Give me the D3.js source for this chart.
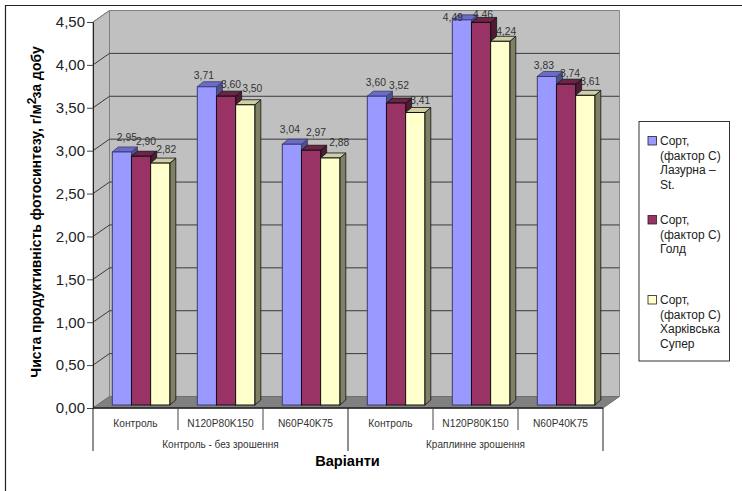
<!DOCTYPE html>
<html>
<head>
<meta charset="utf-8">
<script src="https://cdnjs.cloudflare.com/ajax/libs/d3/7.8.5/d3.min.js"></script>
<style>
html,body{margin:0;padding:0;background:#fff}
svg{display:block}
text{font-family:"Liberation Sans",Arial,sans-serif;fill:#1a1a1a}
</style>
</head>
<body>
<svg id="chart" width="742" height="491"></svg>
<script>
// Chart data
const categories = ["Контроль","N120P80K150","N60P40K75","Контроль","N120P80K150","N60P40K75"];
const groups = ["Контроль - без зрошення","Краплинне зрошення"];
const seriesNames = [
  ["Сорт,","(фактор С)","Лазурна –","St."],
  ["Сорт,","(фактор С)","Голд"],
  ["Сорт,","(фактор С)","Харківська","Супер"]
];
const lazurna = [2.95,3.71,3.04,3.60,4.49,3.83];
const gold = [2.90,3.60,2.97,3.52,4.46,3.74];
const kharkivska = [2.82,3.50,2.88,3.41,4.24,3.61];
const yTicks = [0,0.5,1,1.5,2,2.5,3,3.5,4,4.5];

// Face colours per series: front, top, side, outline
const faces = [
  {front:"#9999ff",top:"#6c6cc6",side:"#4f4f8c",stroke:"#3a3a70"},
  {front:"#993366",top:"#6e2447",side:"#4f1a34",stroke:"#111"},
  {front:"#ffffcc",top:"#cfcfa6",side:"#808066",stroke:"#111"}
];
// Hand placement of the value labels, which the chart engine moved to avoid collisions
const labelShift = [
  [[5,0],[-3,3],[-2,-1],[-1,0],[-9,11.5],[-3,3]],
  [[5,-1],[5,2],[5,-4],[3,-4],[2,6],[4,3]],
  [[6,0],[7,-2],[9,-1],[5,2],[6,4],[5,0]]
];

const svg = d3.select("#chart");
const fmt = v => d3.format(".2f")(v).replace(".",",");

const left = 93, right = 603, depthX = 16.5, depthY = 11.5;
const y = d3.scaleLinear().domain([0,4.5]).range([408,22]);
const x = d3.scaleBand().domain(d3.range(categories.length)).range([left,right]);
const sx = d3.scaleBand().domain([0,1,2]).range([19.3,76.8]);
const barDX = 6, barDY = 5, barLift = 3;

const poly = pts => pts.map(p => p.join(",")).join(" ");

// Outer chart frame: only the top and left edges show
svg.append("path").attr("d","M5.5,491V5.5H742").attr("fill","none").attr("stroke","#222").attr("stroke-width",1.2);

// Back wall, side wall, floor
svg.append("polygon").attr("fill","#c0c0c0").attr("stroke","#8c8c8c")
  .attr("points",poly([[left+depthX,y(4.5)-depthY],[right+depthX,y(4.5)-depthY],[right+depthX,y(0)-depthY],[left+depthX,y(0)-depthY]]));
svg.append("polygon").attr("fill","#c0c0c0").attr("stroke","#808080")
  .attr("points",poly([[left,y(4.5)],[left+depthX,y(4.5)-depthY],[left+depthX,y(0)-depthY],[left,y(0)]]));
svg.append("polygon").attr("fill","#808080").attr("stroke","#707070")
  .attr("points",poly([[left,y(0)],[right,y(0)],[right+depthX,y(0)-depthY],[left+depthX,y(0)-depthY]]));

// Gridlines wrap from the side wall on to the back wall
const wallTicks = yTicks.filter(t => t > 0);
svg.append("g").selectAll("path").data(wallTicks).join("path")
  .attr("fill","none")
  .attr("stroke",d => d === 4.5 ? "#808080" : "#3a3a3a")
  .attr("d",d => `M${left},${y(d)}L${left+depthX},${y(d)-depthY}H${right+depthX}`);

// Bars, painted left to right so each one overlaps its neighbour's side face
const seriesValues = [lazurna,gold,kharkivska];
const bars = [];
categories.forEach((c,i) => seriesValues.forEach((vals,s) => bars.push({i,s,v:vals[i]})));
const barG = svg.append("g").selectAll("g").data(bars).join("g");
const bw = sx.bandwidth();
barG.each(function(d){
  const g = d3.select(this), f = faces[d.s];
  const x0 = x(d.i)+sx(d.s), top = y(d.v)-barLift, bot = y(0)-barLift;
  g.append("polygon").attr("fill",f.side).attr("stroke",f.stroke).attr("stroke-width",0.8)
    .attr("points",poly([[x0+bw,top],[x0+bw+barDX,top-barDY],[x0+bw+barDX,bot-barDY],[x0+bw,bot]]));
  g.append("polygon").attr("fill",f.top).attr("stroke",f.stroke).attr("stroke-width",0.8)
    .attr("points",poly([[x0,top],[x0+barDX,top-barDY],[x0+bw+barDX,top-barDY],[x0+bw,top]]));
  g.append("rect").attr("x",x0).attr("y",top).attr("width",bw).attr("height",bot-top)
    .attr("fill",f.front).attr("stroke",f.stroke).attr("stroke-width",1);
});

// Value labels
svg.append("g").selectAll("text").data(bars).join("text")
  .attr("x",d => x(d.i)+sx(d.s)+bw/2+labelShift[d.s][d.i][0])
  .attr("y",d => y(d.v)-barLift-14+labelShift[d.s][d.i][1]+3.5)
  .attr("text-anchor","middle").attr("font-size",10.3).style("fill","#333")
  .text(d => fmt(d.v));

// Value axis
const axis = d3.axisLeft(y).tickValues(yTicks).tickFormat(fmt).tickSize(6).tickPadding(2);
const ay = svg.append("g").attr("transform",`translate(${left},0)`).call(axis);
ay.select(".domain").attr("stroke","#222");
ay.selectAll(".tick line").attr("stroke","#444");
ay.selectAll(".tick text").attr("font-size",15).style("font-family",'"Liberation Sans",Arial,sans-serif').style("fill","#222");

// Category axis with the two-level grouping
svg.append("line").attr("x1",left).attr("x2",right).attr("y1",y(0)).attr("y2",y(0)).attr("stroke","#222").attr("stroke-width",1.4);
const catSeps = d3.range(categories.length+1);
svg.append("g").selectAll("line").data(catSeps).join("line")
  .attr("x1",d => d === categories.length ? right : x(d)).attr("x2",d => d === categories.length ? right : x(d))
  .attr("y1",y(0))
  .attr("y2",d => d % 3 === 0 ? 451 : 430)
  .attr("stroke",d => d % 3 === 0 ? "#222" : "#444");
svg.append("g").selectAll("text").data(categories).join("text")
  .attr("x",(d,i) => x(i)+x.bandwidth()/2).attr("y",427)
  .attr("text-anchor","middle").attr("font-size",10.2).style("fill","#333").text(d => d);
svg.append("g").selectAll("text").data(groups).join("text")
  .attr("x",(d,i) => x(i*3)+x.bandwidth()*1.5).attr("y",448)
  .attr("text-anchor","middle").attr("font-size",10).style("fill","#333").text(d => d);

// Axis titles
svg.append("text").attr("x",347.5).attr("y",466).attr("text-anchor","middle")
  .attr("font-size",14.6).attr("font-weight","bold").style("fill","#000").text("Варіанти");
const yt = svg.append("text").attr("transform","translate(40.5,212) rotate(-90)").attr("text-anchor","middle")
  .attr("font-size",14).attr("font-weight","bold").style("fill","#000");
yt.append("tspan").text("Чиста продуктивність фотосинтезу, г/м");
yt.append("tspan").attr("dy",-5).attr("font-size",12).text("2");
yt.append("tspan").attr("dy",5).attr("dx",-1).text("за добу");

// Legend
svg.append("rect").attr("x",639).attr("y",121.5).attr("width",90.5).attr("height",239.5)
  .attr("fill","#fff").attr("stroke","#333").attr("stroke-width",1);
const legendY = [141,220,300];
const lg = svg.append("g").selectAll("g").data(seriesNames).join("g")
  .attr("transform",(d,i) => `translate(648,${legendY[i]})`);
lg.append("rect").attr("x",0).attr("y",-4.5).attr("width",8.5).attr("height",8.5)
  .attr("fill",(d,i) => faces[i].front).attr("stroke","#222").attr("stroke-width",0.8);
lg.selectAll("text").data(d => d).join("text")
  .attr("x",12).attr("y",(d,i) => i*14.4+4.3).attr("font-size",12).style("fill","#222").text(d => d);
</script>
</body>
</html>
